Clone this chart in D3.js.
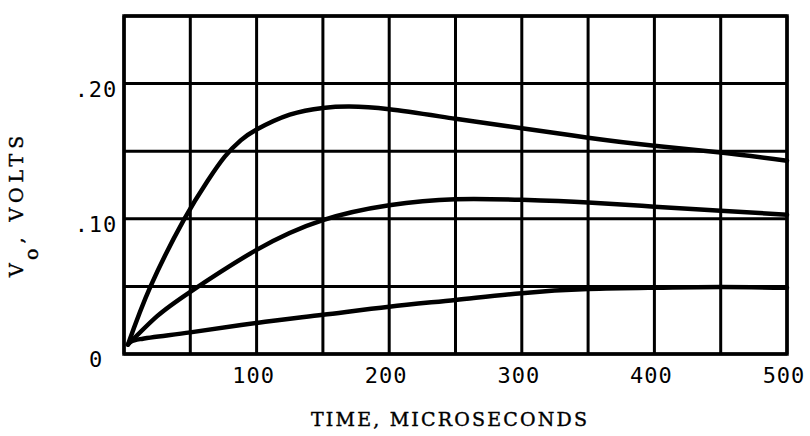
<!DOCTYPE html>
<html>
<head>
<meta charset="utf-8">
<script src="https://cdn.jsdelivr.net/npm/d3@7/dist/d3.min.js"></script>
<style>
  html, body { margin: 0; padding: 0; background: #fff; }
  svg { display: block; }
</style>
</head>
<body>
<svg id="chart" width="810" height="436"></svg>
<script>
// ---- data ----
const timeUpper = [3, 20, 45, 63, 76, 88, 100, 125, 150, 170, 200, 250, 300, 350, 400, 450, 500];
const voltsUpper = [0.007, 0.05, 0.099, 0.128, 0.146, 0.158, 0.166, 0.177, 0.182, 0.183, 0.181, 0.174, 0.167, 0.160, 0.154, 0.149, 0.143];

const timeMiddle = [3, 25, 50, 100, 150, 200, 250, 300, 350, 400, 450, 500];
const voltsMiddle = [0.007, 0.028, 0.046, 0.077, 0.099, 0.110, 0.1145, 0.114, 0.112, 0.109, 0.106, 0.103];

const timeLower = [3, 12, 50, 100, 150, 200, 250, 300, 350, 400, 450, 500];
const voltsLower = [0.007, 0.011, 0.016, 0.023, 0.029, 0.035, 0.040, 0.045, 0.048, 0.049, 0.0495, 0.049];

const xTickValues = [100, 200, 300, 400, 500];
const xTickLabels = ["100", "200", "300", "400", "500"];
const yTickValues = [0, 0.10, 0.20];
const yTickLabels = ["0", ".10", ".20"];
const xGridValues = [0, 50, 100, 150, 200, 250, 300, 350, 400, 450, 500];
const yGridValues = [0, 0.05, 0.10, 0.15, 0.20, 0.25];

const xTitle = "TIME, MICROSECONDS";
const yTitleMain = "V";
const yTitleSub = "o";
const yTitleRest = ", VOLTS";

// ---- layout ----
(function () {
const svg = d3.select("#chart");
const pLeft = 124, pRight = 787, pTop = 16, pBottom = 354;

const x = d3.scaleLinear().domain([0, 500]).range([pLeft, pRight]);
const y = d3.scaleLinear().domain([0, 0.25]).range([pBottom, pTop]);

const typeFont = "'DejaVu Serif', 'Liberation Serif', serif";
const tickFont = "'DejaVu Sans Mono', monospace";

// grid
const g = svg.append("g");
g.selectAll("line.vg").data(xGridValues).enter().append("line")
  .attr("x1", d => x(d)).attr("x2", d => x(d))
  .attr("y1", pTop).attr("y2", pBottom)
  .attr("stroke", "#000").attr("stroke-width", 3);
g.selectAll("line.hg").data(yGridValues).enter().append("line")
  .attr("x1", pLeft).attr("x2", pRight)
  .attr("y1", d => y(d)).attr("y2", d => y(d))
  .attr("stroke", "#000").attr("stroke-width", 3);

// frame
svg.append("rect")
  .attr("x", pLeft).attr("y", pTop)
  .attr("width", pRight - pLeft).attr("height", pBottom - pTop)
  .attr("fill", "none").attr("stroke", "#000").attr("stroke-width", 3.5);

// curves
const line = d3.line()
  .x(d => x(d[0])).y(d => y(d[1]))
  .curve(d3.curveNatural);

const series = [
  d3.zip(timeUpper, voltsUpper),
  d3.zip(timeMiddle, voltsMiddle),
  d3.zip(timeLower, voltsLower)
];
svg.selectAll("path.curve").data(series).enter().append("path")
  .attr("class", "curve")
  .attr("d", line)
  .attr("fill", "none")
  .attr("stroke", "#000")
  .attr("stroke-width", 4.5)
  .attr("stroke-linecap", "round")
  .attr("stroke-linejoin", "round");

// x tick labels
svg.selectAll("text.xt").data(xTickValues).enter().append("text")
  .attr("x", d => x(d) - 3)
  .attr("y", 383)
  .attr("text-anchor", "middle")
  .attr("font-family", tickFont)
  .attr("font-size", 22)
  .attr("letter-spacing", 1)
  .attr("fill", "#000")
  .text((d, i) => xTickLabels[i]);

// y tick labels
svg.selectAll("text.yt").data(yTickValues).enter().append("text")
  .attr("x", 96)
  .attr("y", d => y(d) + 13)
  .attr("text-anchor", "middle")
  .attr("font-family", tickFont)
  .attr("font-size", 22)
  .attr("letter-spacing", 1)
  .attr("fill", "#000")
  .text((d, i) => yTickLabels[i]);

// x title
svg.append("text")
  .attr("x", 311).attr("y", 426)
  .attr("font-family", typeFont)
  .attr("font-size", 19)
  .attr("textLength", 276)
  .attr("lengthAdjust", "spacing")
  .attr("fill", "#000")
  .attr("stroke", "#000").attr("stroke-width", 0.4)
  .text(xTitle);

// y title
const yt = svg.append("text")
  .attr("transform", "translate(23,277) rotate(-90)")
  .attr("font-family", typeFont)
  .attr("font-size", 19)
  .attr("letter-spacing", 5)
  .attr("fill", "#000")
  .attr("stroke", "#000").attr("stroke-width", 0.4);
yt.append("tspan").text(yTitleMain);
yt.append("tspan").attr("dy", 15).text(yTitleSub);
yt.append("tspan").attr("dy", -15).text(yTitleRest);
})();
</script>
</body>
</html>
